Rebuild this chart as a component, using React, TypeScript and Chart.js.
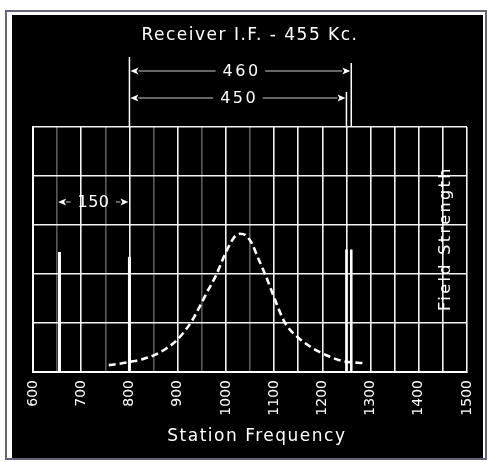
import { useEffect, useRef } from 'react';
import { Chart, registerables } from 'chart.js';

Chart.register(...registerables);

// ---- data ----
const frequencyTicks = [600, 700, 800, 900, 1000, 1100, 1200, 1300, 1400, 1500];
const curveFreq = [757, 780, 803, 830, 855, 875, 895, 912, 928, 945, 962, 980, 995, 1009, 1019, 1029, 1041, 1053, 1067, 1082, 1095, 1108, 1120, 1133, 1150, 1170, 1190, 1216, 1243, 1288];
const curveStrength = [0.14, 0.17, 0.21, 0.27, 0.36, 0.47, 0.62, 0.8, 1.02, 1.32, 1.65, 1.98, 2.33, 2.62, 2.77, 2.82, 2.79, 2.64, 2.32, 1.98, 1.65, 1.32, 1.05, 0.86, 0.7, 0.55, 0.43, 0.31, 0.22, 0.18];
const stationFreq = [655, 800, 1250, 1260];
const stationStrength = [2.45, 2.35, 2.5, 2.5];
const spanStart = 800;
const spanEnds = [1260, 1250];
const spanLabels = ['460', '450'];
const shortSpan = [650, 800];
const shortSpanLabel = '150';
const shortSpanLevel = 3.47;
const titleText = 'Receiver I.F. - 455 Kc.';
const xTitleText = '  Station Frequency';
const yTitleText = 'Field Strength';

const FONT = "'DejaVu Sans', sans-serif";

function drawArrowRow(ctx: CanvasRenderingContext2D, x1: number, x2: number, y: number, label: string, size: number, spacing: number) {
  ctx.save();
  ctx.font = `${size}px ${FONT}`;
  ctx.letterSpacing = `${spacing}px`;
  const w = ctx.measureText(label).width - spacing;
  const cx = (x1 + x2) / 2;
  const gap = 7;
  const head = 9;
  ctx.strokeStyle = 'rgba(255,255,255,0.8)';
  ctx.lineWidth = 1;
  ctx.beginPath();
  ctx.moveTo(x1 + head, y);
  ctx.lineTo(cx - w / 2 - gap, y);
  ctx.moveTo(cx + w / 2 + gap, y);
  ctx.lineTo(x2 - head, y);
  ctx.stroke();
  ctx.fillStyle = '#fff';
  ctx.beginPath();
  ctx.moveTo(x1 + 1, y);
  ctx.lineTo(x1 + head, y - 3.5);
  ctx.lineTo(x1 + head - 2, y);
  ctx.lineTo(x1 + head, y + 3.5);
  ctx.closePath();
  ctx.fill();
  ctx.beginPath();
  ctx.moveTo(x2 - 1, y);
  ctx.lineTo(x2 - head, y - 3.5);
  ctx.lineTo(x2 - head + 2, y);
  ctx.lineTo(x2 - head, y + 3.5);
  ctx.closePath();
  ctx.fill();
  ctx.textAlign = 'center';
  ctx.textBaseline = 'middle';
  ctx.fillText(label, cx + spacing / 2, y + 1);
  ctx.restore();
}

const spacingPlugin = {
  id: 'spacing',
  beforeDraw(chart: any) {
    chart.ctx.letterSpacing = '1.5px';
  },
  beforeDatasetsDraw(chart: any) {
    chart.ctx.letterSpacing = '0px';
  },
};

const annotationPlugin = {
  id: 'annotations',
  afterDraw(chart: any) {
    const ctx: CanvasRenderingContext2D = chart.ctx;
    const xs = chart.scales.x;
    const ys = chart.scales.y;
    const area = chart.chartArea;
    const xStart = xs.getPixelForValue(spanStart);
    const xEnd0 = xs.getPixelForValue(spanEnds[0]);
    const xEnd1 = xs.getPixelForValue(spanEnds[1]);
    ctx.save();
    ctx.strokeStyle = '#fff';
    ctx.lineWidth = 1.5;
    ctx.beginPath();
    ctx.moveTo(xStart, area.top - 70);
    ctx.lineTo(xStart, area.top);
    ctx.moveTo(xEnd0, area.top - 64);
    ctx.lineTo(xEnd0, area.top);
    ctx.moveTo(xEnd1, area.top - 35);
    ctx.lineTo(xEnd1, area.top);
    ctx.stroke();
    ctx.restore();
    drawArrowRow(ctx, xStart, xEnd0, area.top - 56, spanLabels[0], 16, 2.5);
    drawArrowRow(ctx, xStart, xEnd1, area.top - 29, spanLabels[1], 16, 2.5);
    drawArrowRow(ctx, xs.getPixelForValue(shortSpan[0]), xs.getPixelForValue(shortSpan[1]), ys.getPixelForValue(shortSpanLevel), shortSpanLabel, 16, 0.5);

    // Field Strength label inside the plot
    ctx.save();
    ctx.translate(area.right - 21, ys.getPixelForValue(2.7));
    ctx.rotate(-Math.PI / 2);
    ctx.font = `16px ${FONT}`;
    ctx.letterSpacing = '2.4px';
    ctx.fillStyle = '#fff';
    ctx.textAlign = 'center';
    ctx.textBaseline = 'middle';
    ctx.fillText(yTitleText, 1, 0);
    ctx.restore();
  },
};

export default function App() {
  const canvasRef = useRef<HTMLCanvasElement | null>(null);

  useEffect(() => {
    const canvas = canvasRef.current;
    if (!canvas) return;
    const chart = new Chart(canvas, {
      type: 'line',
      data: {
        datasets: [
          {
            data: curveFreq.map((f, i) => ({ x: f, y: curveStrength[i] })),
            borderColor: '#fff',
            borderWidth: 2.6,
            borderDash: [7, 4],
            pointRadius: 0,
            cubicInterpolationMode: 'monotone',
          },
          ...stationFreq.map((f, i) => ({
            data: [
              { x: f, y: 0 },
              { x: f, y: stationStrength[i] },
            ],
            borderColor: '#fff',
            borderWidth: i >= 2 ? 2.6 : 3,
            pointRadius: 0,
          })),
        ],
      },
      options: {
        responsive: false,
        animation: false,
        devicePixelRatio: 1,
        layout: { padding: { left: 21, right: 16, top: 0, bottom: 0 } },
        plugins: {
          legend: { display: false },
          tooltip: { enabled: false },
          title: {
            display: true,
            text: titleText,
            color: '#fff',
            font: { family: FONT, size: 17, weight: 'normal' },
            padding: { top: 10, bottom: 81.6 },
          },
        },
        scales: {
          x: {
            type: 'linear',
            min: 600,
            max: 1500,
            afterFit: (scale: any) => {
              scale.height = 86;
              scale.paddingLeft = 0;
              scale.paddingRight = 0;
            },
            ticks: {
              stepSize: 50,
              autoSkip: false,
              minRotation: 90,
              maxRotation: 90,
              padding: 8,
              color: '#fff',
              font: { family: FONT, size: 14 },
              z: 1,
              callback: (v: any) => (frequencyTicks.includes(Number(v)) ? String(v) : ''),
            },
            grid: {
              drawTicks: false,
              lineWidth: 1.6,
              color: (c: any) => {
                const v = c.tick ? c.tick.value : 0;
                return v % 100 !== 0 && v < 1100 ? 'rgba(255,255,255,0.35)' : 'rgba(255,255,255,0.95)';
              },
            },
            border: { color: '#fff', width: 2 },
            title: {
              display: true,
              text: xTitleText,
              color: '#fff',
              font: { family: FONT, size: 17 },
              padding: { top: 0, bottom: 11 },
            },
          },
          y: {
            min: 0,
            max: 5,
            afterFit: (scale: any) => {
              scale.width = 0;
            },
            ticks: { stepSize: 1, display: false },
            grid: { drawTicks: false, lineWidth: 1.6, color: 'rgba(255,255,255,0.95)' },
            border: { color: '#fff', width: 2 },
          },
        },
      },
      plugins: [spacingPlugin, annotationPlugin],
    } as any);
    return () => chart.destroy();
  }, []);

  return (
    <div style={{ position: 'fixed', left: 0, top: 0, width: 488, height: 462, background: '#fff' }}>
      <div
        style={{
          position: 'absolute',
          left: 5,
          top: 10,
          width: 482,
          height: 450,
          border: '2px solid #66667a',
          boxSizing: 'border-box',
        }}
      />
      <canvas
        ref={canvasRef}
        width={471}
        height={443}
        style={{ position: 'absolute', left: 12, top: 15, width: 471, height: 443, background: '#000' }}
      />
    </div>
  );
}
